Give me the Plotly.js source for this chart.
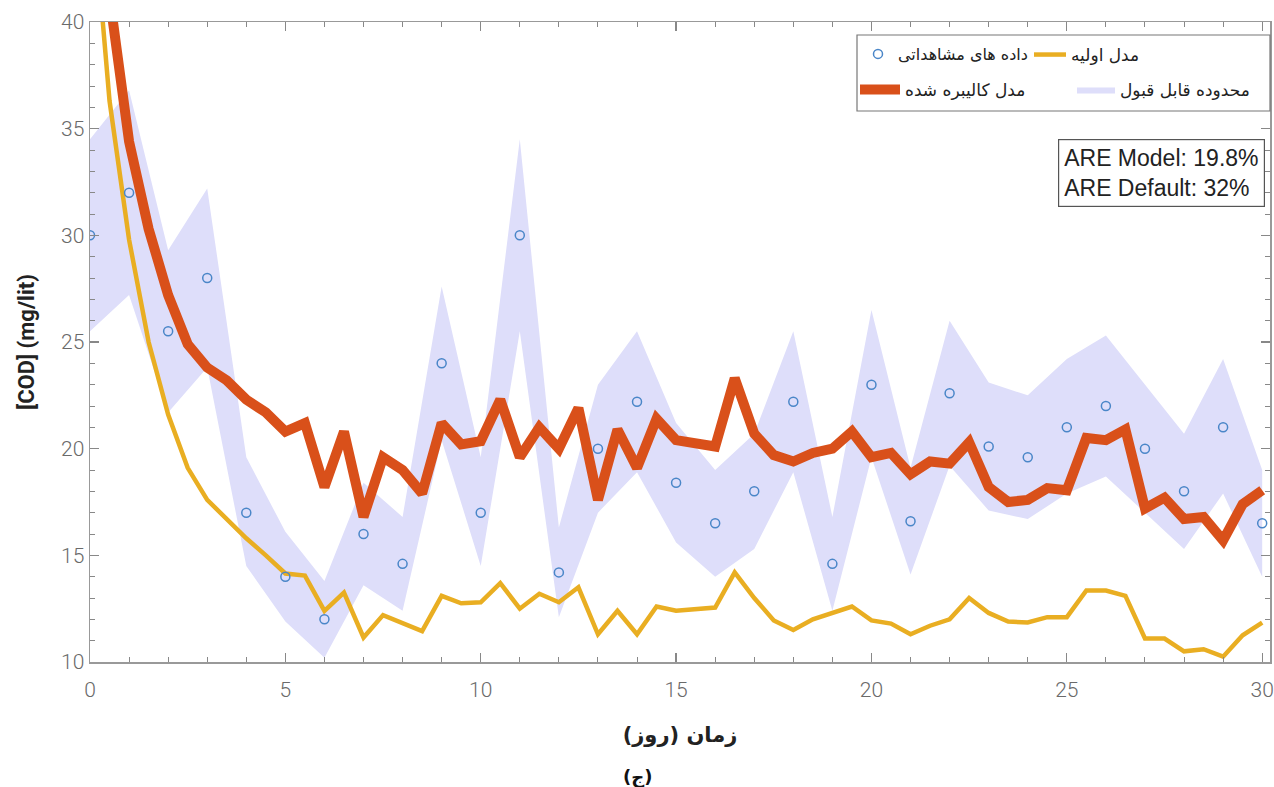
<!DOCTYPE html>
<html>
<head>
<meta charset="utf-8">
<script src="https://cdn.plot.ly/plotly-3.0.1.min.js"></script>
<style>html,body{margin:0;padding:0;background:#fff;}#chart{width:1274px;height:787px;}</style>
</head>
<body>
<div id="chart"></div>
<script>
// Observed data (daily)
var obsDays = [0,1,2,3,4,5,6,7,8,9,10,11,12,13,14,15,16,17,18,19,20,21,22,23,24,25,26,27,28,29,30];
var obsValues = [30,32,25.5,28,17,14,12,16,14.6,24,17,30,14.2,20,22.2,18.4,16.5,18,22.2,14.6,23,16.6,22.6,20.1,19.6,21,22,20,18,21,16.5];
// Acceptable range (upper / lower)
var bandUpper = [34.5,36.8,29.3,32.2,19.6,16.1,13.8,18.4,16.8,27.6,19.6,34.5,16.3,23,25.5,21.2,19,20.7,25.5,16.8,26.5,19.1,26,23.1,22.5,24.2,25.3,23,20.7,24.2,19];
var bandLower = [25.5,27.2,21.7,23.8,14.5,11.9,10.2,13.6,12.4,20.4,14.5,25.5,12.1,17,18.9,15.6,14,15.3,18.9,12.4,19.6,14.1,19.2,17.1,16.7,17.9,18.7,17,15.3,17.9,14];
// Model outputs (half-day steps)
var modelDays = [0,0.5,1,1.5,2,2.5,3,3.5,4,4.5,5,5.5,6,6.5,7,7.5,8,8.5,9,9.5,10,10.5,11,11.5,12,12.5,13,13.5,14,14.5,15,15.5,16,16.5,17,17.5,18,18.5,19,19.5,20,20.5,21,21.5,22,22.5,23,23.5,24,24.5,25,25.5,26,26.5,27,27.5,28,28.5,29,29.5,30];
var calibrated = [52,41.2,34.4,30.3,27.2,24.9,23.8,23.2,22.3,21.7,20.8,21.2,18.2,20.8,16.8,19.6,19,17.9,21.2,20.2,20.35,22.3,19.6,21,20,21.9,17.6,20.9,19.1,21.4,20.4,20.2,20.1,23.3,20.7,19.7,19.4,19.8,20,20.8,19.6,19.8,18.8,19.4,19.3,20.3,18.2,17.5,17.6,18.15,18.05,20.5,20.4,20.9,17.2,17.7,16.7,16.8,15.7,17.4,18.05];
var defaultModel = [47,36.3,29.8,25,21.6,19.1,17.6,16.7,15.8,15,14.15,14.05,12.4,13.25,11.15,12.2,11.8,11.45,13.1,12.75,12.8,13.7,12.5,13.2,12.8,13.5,11.3,12.4,11.3,12.6,12.4,12.45,12.55,14.2,13,11.95,11.5,12,12.3,12.6,11.95,11.8,11.3,11.7,12,13,12.3,11.9,11.85,12.1,12.1,13.35,13.35,13.1,11.1,11.1,10.5,10.6,10.25,11.25,11.85];

var legendNames = {
  obs: 'داده های مشاهداتی',
  def: 'مدل اولیه',
  cal: 'مدل کالیبره شده',
  band: 'محدوده قابل قبول'
};
var statLines = ['ARE Model: 19.8%', 'ARE Default: 32%'];
var xTitle = 'زمان (روز)';
var yTitle = '[COD] (mg/lit)';
var caption = '(ج)';

var bandX = obsDays.concat(obsDays.slice().reverse());
var bandY = bandUpper.concat(bandLower.slice().reverse());

var traces = [
  {x: bandX, y: bandY, type: 'scatter', mode: 'lines', fill: 'toself',
   fillcolor: 'rgba(222,222,250,1)', line: {width: 0, color: 'rgba(0,0,0,0)'},
   name: legendNames.band, legend: 'legend4', hoverinfo: 'skip'},
  {x: modelDays, y: defaultModel, type: 'scatter', mode: 'lines',
   line: {color: '#E9AE22', width: 4.5}, name: legendNames.def, legend: 'legend2'},
  {x: modelDays, y: calibrated, type: 'scatter', mode: 'lines',
   line: {color: '#D9501A', width: 10}, name: legendNames.cal, legend: 'legend3'},
  {x: obsDays, y: obsValues, type: 'scatter', mode: 'markers',
   marker: {symbol: 'circle-open', size: 9, color: '#4A86C8', line: {width: 1.5, color: '#4A86C8'}},
   name: legendNames.obs, legend: 'legend'}
];

var tickFont = {family: 'Roboto', size: 21, color: '#6a6a6a', weight: 300};
var legFont = {family: 'DejaVu Sans', size: 17, color: '#222'};
var PW = 1180, PH = 640, PL = 90, PT = 22;
function px(x) { return (x - PL) / PW; }
function py(y) { return (PT + PH - y) / PH; }
function leg(x, y, iw, fs) {
  return {orientation: 'h', x: px(x), y: py(y), xanchor: 'left', yanchor: 'top',
          bgcolor: 'rgba(0,0,0,0)', borderwidth: 0,
          font: {family: legFont.family, size: fs || legFont.size, color: legFont.color}, itemwidth: iw};
}

var layout = {
  width: 1274, height: 787,
  margin: {l: 90, r: 4, t: 22, b: 125},
  paper_bgcolor: '#fff', plot_bgcolor: '#fff',
  showlegend: true,
  xaxis: {
    range: [0, 30.2], dtick: 5, tick0: 0,
    ticks: 'inside', ticklen: 9, tickcolor: '#888', tickwidth: 1.2,
    minor: {ticks: 'inside', dtick: 1, ticklen: 5, tickcolor: '#888', tickwidth: 1},
    showline: true, linecolor: '#999', linewidth: 1.5, mirror: 'ticks',
    showgrid: false, zeroline: false, automargin: false,
    tickfont: tickFont, ticklabelstandoff: 8,
    title: {text: xTitle, font: {family: 'DejaVu Sans', size: 21, color: '#222', weight: 'bold'}, standoff: 26}
  },
  yaxis: {
    range: [10, 40], dtick: 5, tick0: 10,
    ticks: 'inside', ticklen: 9, tickcolor: '#888', tickwidth: 1.2,
    minor: {ticks: 'inside', dtick: 1, ticklen: 5, tickcolor: '#888', tickwidth: 1},
    showline: true, linecolor: '#999', linewidth: 1.5, mirror: 'ticks',
    showgrid: false, zeroline: false, automargin: false,
    tickfont: tickFont,
    title: {text: yTitle, font: {family: 'Roboto', size: 22, color: '#222', weight: 'bold'}, standoff: 20}
  },
  legend: leg(858, 37, 30, 16),
  legend2: leg(1029, 37, 32),
  legend3: leg(855, 72, 40),
  legend4: leg(1072, 72, 38),
  shapes: [
    {type: 'rect', xref: 'paper', yref: 'paper', x0: px(857), x1: px(1270),
     y0: py(111), y1: py(35), line: {color: '#777', width: 1.2}, fillcolor: 'rgba(255,255,255,1)', layer: 'above'}
  ],
  annotations: [
    {xref: 'paper', yref: 'paper', x: px(1265), y: py(139), xanchor: 'right', yanchor: 'top',
     text: statLines.join('<br>'), showarrow: false, align: 'left',
     font: {family: 'Liberation Sans', size: 23, color: '#222'},
     bordercolor: '#555', borderwidth: 1.2, borderpad: 5, bgcolor: '#fff'},
    {xref: 'paper', yref: 'paper', x: px(637), y: py(777), xanchor: 'center', yanchor: 'middle',
     text: '<b>' + caption + '</b>', showarrow: false,
     font: {family: 'DejaVu Sans', size: 18, color: '#111'}}
  ]
};

Plotly.newPlot('chart', traces, layout, {displayModeBar: false, staticPlot: true});
</script>
</body>
</html>
